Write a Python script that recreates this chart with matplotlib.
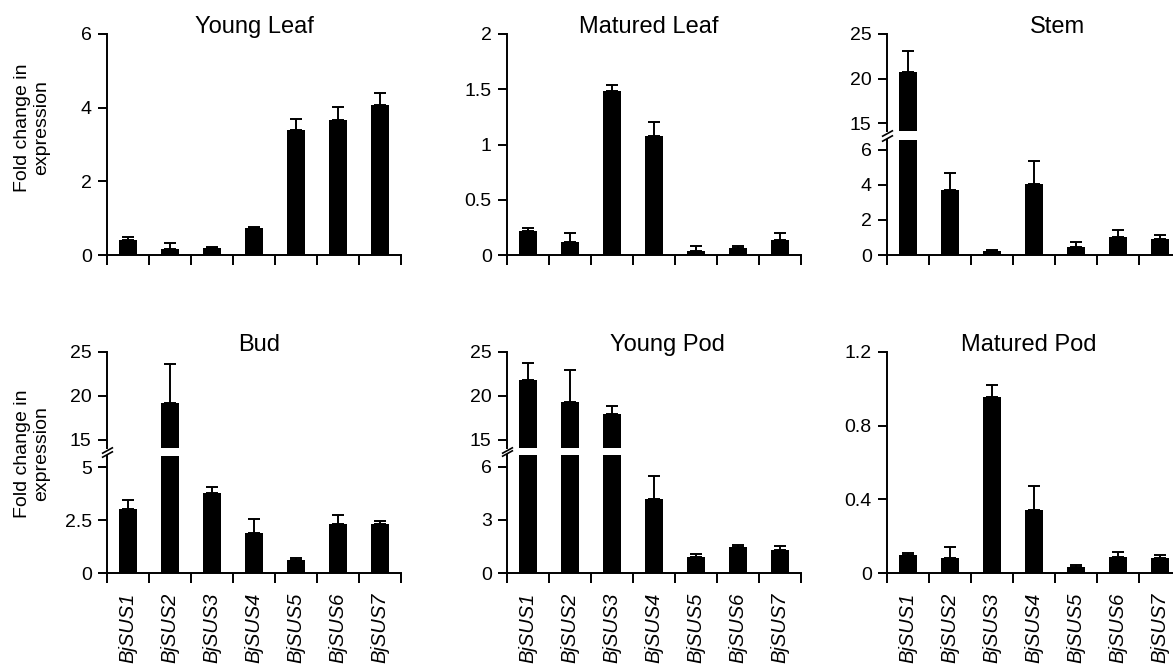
import numpy as np
import matplotlib
matplotlib.use("Agg")
import matplotlib.pyplot as plt
from matplotlib.transforms import offset_copy

plt.rcParams['font.family'] = ['Liberation Sans', 'DejaVu Sans']

genes = ['BjSUS1', 'BjSUS2', 'BjSUS3', 'BjSUS4', 'BjSUS5', 'BjSUS6', 'BjSUS7']

# mean fold change and upper error (SD)
young_leaf = [0.41, 0.15, 0.18, 0.72, 3.40, 3.67, 4.08]
young_leaf_err = [0.07, 0.18, 0.03, 0.03, 0.30, 0.36, 0.32]

matured_leaf = [0.22, 0.12, 1.48, 1.08, 0.04, 0.06, 0.14]
matured_leaf_err = [0.02, 0.08, 0.06, 0.12, 0.04, 0.025, 0.06]

stem = [20.75, 3.70, 0.20, 4.07, 0.47, 1.05, 0.91]
stem_err = [2.35, 0.95, 0.08, 1.30, 0.29, 0.38, 0.23]

bud = [3.02, 19.24, 3.79, 1.90, 0.60, 2.30, 2.30]
bud_err = [0.41, 4.36, 0.27, 0.65, 0.09, 0.44, 0.17]

young_pod = [21.8, 19.35, 18.0, 4.15, 0.89, 1.44, 1.32]
young_pod_err = [1.9, 3.55, 0.9, 1.32, 0.17, 0.16, 0.21]

matured_pod = [0.100, 0.084, 0.954, 0.344, 0.035, 0.089, 0.084]
matured_pod_err = [0.010, 0.056, 0.066, 0.126, 0.010, 0.023, 0.016]

W, H = 1173, 664
fig = plt.figure(figsize=(W / 100, H / 100), dpi=100)
x = np.arange(len(genes))
edges = np.arange(-0.5, len(genes), 1.0)
LW = 1.4


def add_ax(left, top, width, height):
    # position given in pixels from top-left
    return fig.add_axes([left / W, 1 - (top + height) / H, width / W, height / H])


def style(ax, xaxis=True, labels=False):
    ax.spines['top'].set_visible(False)
    ax.spines['right'].set_visible(False)
    ax.spines['left'].set_linewidth(LW)
    ax.tick_params(axis='y', length=6.5, width=LW, pad=4.5, labelsize=14)
    ax.set_xlim(-0.5, 6.5)
    if xaxis:
        ax.spines['bottom'].set_linewidth(LW)
        ax.set_xticks(x)
        ax.set_xticks(edges, minor=True)
        ax.tick_params(axis='x', which='major', length=0, pad=14, labelsize=14.5)
        ax.tick_params(axis='x', which='minor', length=7, width=LW)
        if labels:
            ax.set_xticklabels(genes, rotation=90, fontstyle='italic')
        else:
            ax.set_xticklabels([])
    else:
        ax.spines['bottom'].set_visible(False)
        ax.set_xticks([])


def draw(ax, vals, errs):
    ax.errorbar(x, vals, yerr=[np.zeros(len(vals)), errs], fmt='none', ecolor='k',
                elinewidth=LW, capsize=4.5, capthick=LW, zorder=1)
    ax.bar(x, vals, width=0.44, color='k', zorder=2)


def ticks(ax, vals, labels=None):
    ax.set_yticks(vals)
    ax.set_yticklabels(labels if labels else [str(v) for v in vals])


def title(ax, text, xf):
    ax.annotate(text, xy=(xf, 1), xycoords='axes fraction', xytext=(0, 1),
                textcoords='offset points', ha='center', va='baseline', fontsize=17)


def simple_panel(left, top, vals, errs, ylim, yt, ylab, name, xf, labels):
    ax = add_ax(left, top, 294, 221)
    draw(ax, vals, errs)
    ax.set_ylim(*ylim)
    ticks(ax, yt, ylab)
    style(ax, labels=labels)
    title(ax, name, xf)
    return ax


def broken_panel(left, top, up_h, low_top, low_h, vals, errs, up_lim, low_lim,
                 up_t, low_t, low_lab, name, xf, labels):
    up = add_ax(left, top, 294, up_h)
    low = add_ax(left, low_top, 294, low_h)
    for a in (up, low):
        draw(a, vals, errs)
    up.set_ylim(*up_lim)
    low.set_ylim(*low_lim)
    ticks(up, up_t)
    ticks(low, low_t, low_lab)
    style(up, xaxis=False)
    style(low, labels=labels)
    # break marks on the y axis
    mk = dict(marker=[(-1, -0.55), (1, 0.55)], markersize=8, linestyle='none',
              color='k', mec='k', mew=1.2, clip_on=False)
    up.plot([0], [0], transform=offset_copy(up.transAxes, fig, y=-2, units='dots'), **mk)
    low.plot([0], [1], transform=offset_copy(low.transAxes, fig, y=2, units='dots'), **mk)
    title(up, name, xf)


cols = [107, 507, 887]

simple_panel(cols[0], 34, young_leaf, young_leaf_err, (0, 6), [0, 2, 4, 6], None,
             'Young Leaf', 0.50, False)
simple_panel(cols[1], 34, matured_leaf, matured_leaf_err, (0, 2), [0, 0.5, 1, 1.5, 2],
             ['0', '0.5', '1', '1.5', '2'], 'Matured Leaf', 0.483, False)
broken_panel(cols[2], 34, 97, 140, 115, stem, stem_err, (14.14, 25), (0, 6.55),
             [15, 20, 25], [0, 2, 4, 6], None, 'Stem', 0.58, False)

broken_panel(cols[0], 352, 96, 456, 117, bud, bud_err, (14.09, 25), (0, 5.52),
             [15, 20, 25], [0, 2.5, 5], ['0', '2.5', '5'], 'Bud', 0.517, True)
broken_panel(cols[1], 352, 96, 455, 118, young_pod, young_pod_err, (14.09, 25), (0, 6.66),
             [15, 20, 25], [0, 3, 6], None, 'Young Pod', 0.546, True)
simple_panel(cols[2], 352, matured_pod, matured_pod_err, (0, 1.2), [0, 0.4, 0.8, 1.2],
             ['0', '0.4', '0.8', '1.2'], 'Matured Pod', 0.483, True)

for yc in (128, 454):
    fig.text(32 / W, 1 - yc / H, 'Fold change in\nexpression', rotation=90,
             ha='center', va='center', multialignment='center', fontsize=14)

fig.savefig('out.png', dpi=100)
